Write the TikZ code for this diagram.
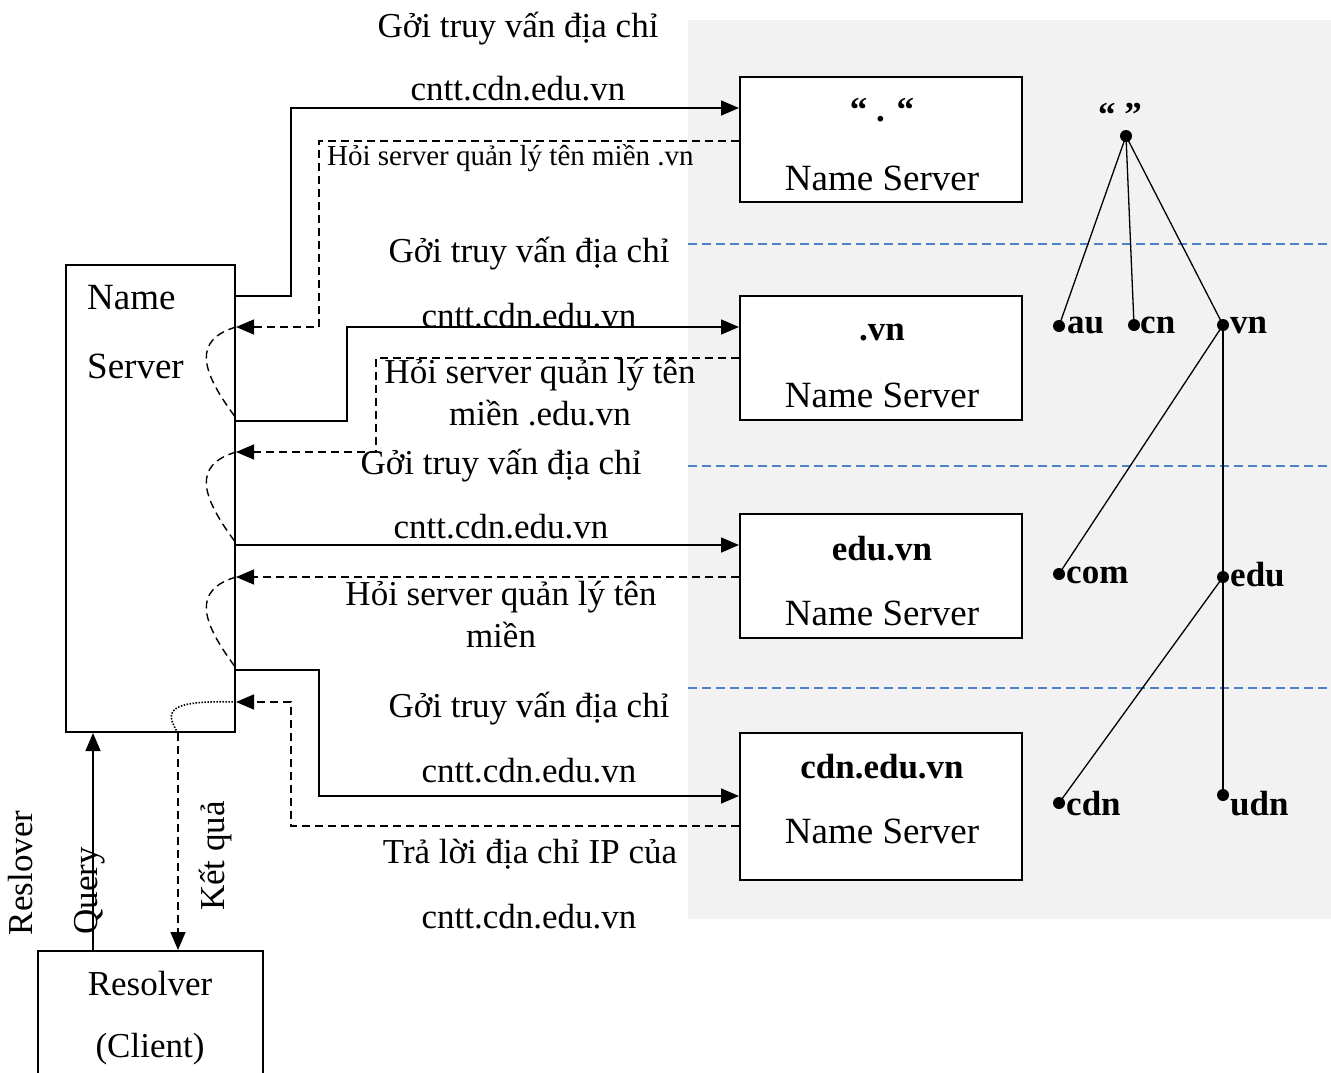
\documentclass[tikz,border=0pt]{standalone}
\usepackage{fontspec}
\setmainfont{Liberation Serif}
\usetikzlibrary{arrows.meta}
\definecolor{bggray}{RGB}{242,242,242}
\definecolor{sepblue}{RGB}{79,129,199}
\newcommand{\fsN}{\fontsize{35}{40}\selectfont}
\newcommand{\fsB}{\fontsize{37}{42}\selectfont}
\newcommand{\fsS}{\fontsize{29}{34}\selectfont}
\begin{document}
\begin{tikzpicture}[x=1pt,y=-1pt,
  box/.style={draw=black, line width=2pt, fill=white, inner sep=0pt},
  lbl/.style={font=\fsN, inner sep=0pt, anchor=base},
  nlbl/.style={font=\fsB, inner sep=0pt, anchor=base},
  slbl/.style={font=\fsS, inner sep=0pt, anchor=base west},
  blbl/.style={font=\fsN\bfseries, inner sep=0pt, anchor=base},
  fwd/.style={line width=1.6pt, -{Triangle[length=18pt,width=15pt]}},
  ret/.style={line width=1.5pt, dash pattern=on 8pt off 5pt, -{Triangle[length=18pt,width=15pt]}},
  loopc/.style={line width=1.4pt, dash pattern=on 8pt off 5pt},
  dotc/.style={line width=1.6pt, dash pattern=on 1.5pt off 1.5pt},
  sepl/.style={sepblue, line width=1.6pt, dash pattern=on 9pt off 5pt},
  treel/.style={line width=1.3pt},
  tdot/.style={circle, fill=black, inner sep=0pt, minimum size=12pt},
  tlbl/.style={font=\fsN\bfseries, inner sep=0pt, anchor=base west}]
\useasboundingbox (0,0) rectangle (1331,1072);
\clip (0,0) rectangle (1331,1072);
\fill[white] (0,0) rectangle (1331,1072);
% gray background
\fill[bggray] (688,20) rectangle (1331,919);
% separators
\draw[sepl] (688,244) -- (1331,244);
\draw[sepl] (688,466) -- (1331,466);
\draw[sepl] (688,688) -- (1331,688);

% boxes
\node[box, minimum width=169pt, minimum height=467pt] (ns) at (150.5,498.5) {};
\node[nlbl, anchor=base west] (nsA) at (87,309) {Name};
\node[nlbl, anchor=base west] (nsB) at (87,378) {Server};

\node[box, minimum width=225pt, minimum height=180pt] (res) at (150.5,1041) {};
\node[lbl] (resA) at (150,995) {Resolver};
\node[lbl] (resB) at (150,1057) {(Client)};

\node[box, minimum width=282pt, minimum height=125pt] (s1) at (881,139.5) {};
\node[blbl] (s1a) at (882,121) {“ . “};
\node[nlbl] (s1b) at (882,190) {Name Server};
\node[box, minimum width=282pt, minimum height=124pt] (s2) at (881,358) {};
\node[blbl] (s2a) at (882,340) {.vn};
\node[nlbl] (s2b) at (882,407) {Name Server};
\node[box, minimum width=282pt, minimum height=124pt] (s3) at (881,576) {};
\node[blbl] (s3a) at (882,560) {edu.vn};
\node[nlbl] (s3b) at (882,625) {Name Server};
\node[box, minimum width=282pt, minimum height=147pt] (s4) at (881,806.5) {};
\node[blbl] (s4a) at (882,778) {cdn.edu.vn};
\node[nlbl] (s4b) at (882,843) {Name Server};

% step 1
\draw[fwd] (ns.east |- 0,296) -- (291,296) |- (s1.west |- 0,108);
\draw[ret] (s1.west |- 0,141) -- (319,141) |- (ns.east |- 0,327);
\node[lbl] (g1) at (518,37) {Gởi truy vấn địa chỉ};
\node[lbl] (c1) at (518,100) {cntt.cdn.edu.vn};
\node[slbl] (h1) at (327,165) {Hỏi server quản lý tên miền .vn};
\draw[loopc] (ns.east |- 0,327) .. controls (193,340) and (200,370) .. (ns.east |- 0,418);

% step 2
\draw[fwd] (ns.east |- 0,421) -- (347,421) |- (s2.west |- 0,327);
\draw[ret] (s2.west |- 0,358) -- (376,358) |- (ns.east |- 0,452);
\node[lbl] (g2) at (529,262) {Gởi truy vấn địa chỉ};
\node[lbl] (c2) at (529,327) {cntt.cdn.edu.vn};
\node[lbl] (h2a) at (540,383) {Hỏi server quản lý tên};
\node[lbl] (h2b) at (540,425) {miền .edu.vn};
\draw[loopc] (ns.east |- 0,452) .. controls (193,465) and (200,495) .. (ns.east |- 0,543);

% step 3
\draw[fwd] (ns.east |- 0,545) -- (s3.west |- 0,545);
\draw[ret] (s3.west |- 0,577) -- (ns.east |- 0,577);
\node[lbl] (g3) at (501,474) {Gởi truy vấn địa chỉ};
\node[lbl] (c3) at (501,538) {cntt.cdn.edu.vn};
\node[lbl] (h3a) at (501,605) {Hỏi server quản lý tên};
\node[lbl] (h3b) at (501,647) {miền};
\draw[loopc] (ns.east |- 0,577) .. controls (193,590) and (200,620) .. (ns.east |- 0,668);

% step 4
\draw[fwd] (ns.east |- 0,670) -- (319,670) |- (s4.west |- 0,796);
\draw[ret] (s4.west |- 0,826) -- (291,826) |- (ns.east |- 0,702);
\node[lbl] (g4) at (529,717) {Gởi truy vấn địa chỉ};
\node[lbl] (c4) at (529,782) {cntt.cdn.edu.vn};
\node[lbl] (t4a) at (530,863) {Trả lời địa chỉ IP của};
\node[lbl] (t4b) at (529,928) {cntt.cdn.edu.vn};
\draw[dotc] (ns.south -| 178,0) .. controls (165,712) and (165,700) .. (ns.east |- 0,702);

% client links
\draw[fwd] (res.north -| 93,0) -- (ns.south -| 93,0);
\draw[ret] (ns.south -| 178,0) -- (res.north -| 178,0);
\node[lbl, rotate=90] (qry) at (97,891) {Query};
\node[lbl, rotate=90] (kq) at (224,856) {Kết quả};
\node[lbl, rotate=90] (rsl) at (32,873) {Reslover};

% tree
\node[tdot] (root) at (1126,136) {};
\node[blbl] (rootl) at (1120,126) {“ ”};
\node[tdot] (au) at (1059,326) {};
\node[tdot] (cn) at (1134,325) {};
\node[tdot] (vn) at (1223,325) {};
\node[tdot] (com) at (1059,574) {};
\node[tdot] (edu) at (1223,577) {};
\node[tdot] (cdn) at (1059,803) {};
\node[tdot] (udn) at (1223,795) {};
\draw[treel] (root.center) -- (au.center);
\draw[treel] (root.center) -- (cn.center);
\draw[treel] (root.center) -- (vn.center);
\draw[treel] (vn.center) -- (com.center);
\draw[treel] (vn.center) -- (edu.center);
\draw[treel] (edu.center) -- (udn.center);
\draw[treel] (edu.center) -- (cdn.center);
\node[tlbl] (aul) at (1067,333) {au};
\node[tlbl] (cnl) at (1140,333) {cn};
\node[tlbl] (vnl) at (1230,333) {vn};
\node[tlbl] (coml) at (1066,583) {com};
\node[tlbl] (edul) at (1230,586) {edu};
\node[tlbl] (cdnl) at (1066,815) {cdn};
\node[tlbl] (udnl) at (1230,815) {udn};
\end{tikzpicture}
\end{document}
